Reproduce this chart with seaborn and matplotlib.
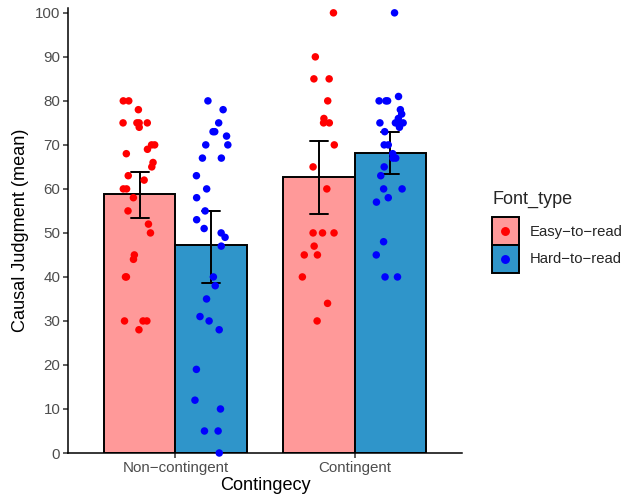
import numpy as np
import pandas as pd
import seaborn as sns
import matplotlib
matplotlib.use("Agg")
import matplotlib.pyplot as plt
from matplotlib.patches import Patch, Rectangle
from matplotlib.lines import Line2D
from matplotlib.legend_handler import HandlerBase

# ---- data ----
contingency = ["Non\u2212contingent", "Contingent"]
font_types = ["Easy\u2212to\u2212read", "Hard\u2212to\u2212read"]

noncont_easy = [80, 80, 78, 75, 75, 75, 75, 74, 70, 70, 69, 68, 66, 65, 63, 62,
                60, 60, 58, 55, 52, 50, 45, 44, 40, 40, 30, 30, 30, 28]
noncont_hard = [80, 78, 75, 73, 73, 72, 70, 70, 67, 67, 63, 60, 58, 55, 53, 51,
                50, 49, 47, 40, 38, 35, 31, 30, 28, 19, 12, 10, 5, 5, 0]
cont_easy = [100, 90, 85, 85, 80, 76, 75, 75, 70, 65, 60, 50, 50, 50, 47, 45,
             45, 40, 34, 30]
cont_hard = [100, 81, 80, 80, 80, 78, 77, 76, 75, 75, 75, 75, 74, 73, 70, 70,
             68, 67, 67, 65, 63, 60, 60, 58, 57, 48, 45, 40, 40]

y_ticks = list(range(0, 101, 10))

bar_colors = ["#FF9999", "#2F95CA"]
point_colors = ["#FF0000", "#0000FF"]

groups = [
    (contingency[0], font_types[0], noncont_easy),
    (contingency[0], font_types[1], noncont_hard),
    (contingency[1], font_types[0], cont_easy),
    (contingency[1], font_types[1], cont_hard),
]
rows = []
for c, f, vals in groups:
    for v in vals:
        rows.append({"Contingecy": c, "Font_type": f, "Judgment": v})
df = pd.DataFrame(rows)


class BoxDotHandler(HandlerBase):
    def __init__(self, dot_color):
        super().__init__()
        self.dot_color = dot_color

    def create_artists(self, legend, orig_handle, xdescent, ydescent,
                       width, height, fontsize, trans):
        r = Rectangle((-xdescent, -ydescent), width, height,
                      facecolor=orig_handle.get_facecolor(),
                      edgecolor="black", linewidth=1.4, transform=trans)
        d = Line2D([-xdescent + width / 2], [-ydescent + height / 2],
                   linestyle="", marker="o", color=self.dot_color,
                   markersize=5.4, transform=trans)
        return [r, d]


# ---- plot ----
sns.set_theme(style="ticks")
plt.rcParams["font.family"] = ["Liberation Sans", "DejaVu Sans"]

fig = plt.figure(figsize=(6.24, 4.98), dpi=100)
ax = fig.add_axes([68 / 624, 45 / 498, 394 / 624, 445 / 498])

sns.barplot(data=df, x="Contingecy", y="Judgment", hue="Font_type",
            order=contingency, hue_order=font_types, palette=bar_colors,
            saturation=1, width=0.8, errorbar=("ci", 95), seed=7,
            capsize=0.2, err_kws={"color": "black", "linewidth": 1.4},
            edgecolor="black", linewidth=1.4, legend=False, ax=ax)

np.random.seed(11)
sns.stripplot(data=df, x="Contingecy", y="Judgment", hue="Font_type",
              order=contingency, hue_order=font_types, palette=point_colors,
              dodge=True, jitter=0.19, size=5.4, linewidth=0, legend=False,
              zorder=4, clip_on=False, ax=ax)

ax.set_xlim(-0.6, 1.6)
ax.set_ylim(0, 101.1)
ax.set_yticks(y_ticks)
sns.despine(ax=ax)
for s in ("left", "bottom"):
    ax.spines[s].set_linewidth(1.1)
    ax.spines[s].set_color("black")
ax.tick_params(length=3.5, width=1.1, color="#333333", labelcolor="#4D4D4D",
               labelsize=10.9, pad=2)
ax.set_xlabel("Contingecy", fontsize=13.1, color="black", labelpad=2)
ax.set_ylabel("Causal Judgment (mean)", fontsize=13.1, color="black", labelpad=4)

handles = [Patch(facecolor=bar_colors[i]) for i in range(2)]
hmap = {handles[i]: BoxDotHandler(point_colors[i]) for i in range(2)}
fig.legend(handles, font_types, loc="center left",
           bbox_to_anchor=(492 / 624, 1 - 245 / 498), frameon=False,
           fontsize=10.7, handlelength=1.8,
           handleheight=2.5, labelspacing=0.0, handletextpad=0.75,
           handler_map=hmap, borderaxespad=0, borderpad=0)
fig.text(492 / 624, 1 - 199 / 498, "Font_type", fontsize=13, ha="left",
         va="center")

fig.savefig("out.png", dpi=100)
